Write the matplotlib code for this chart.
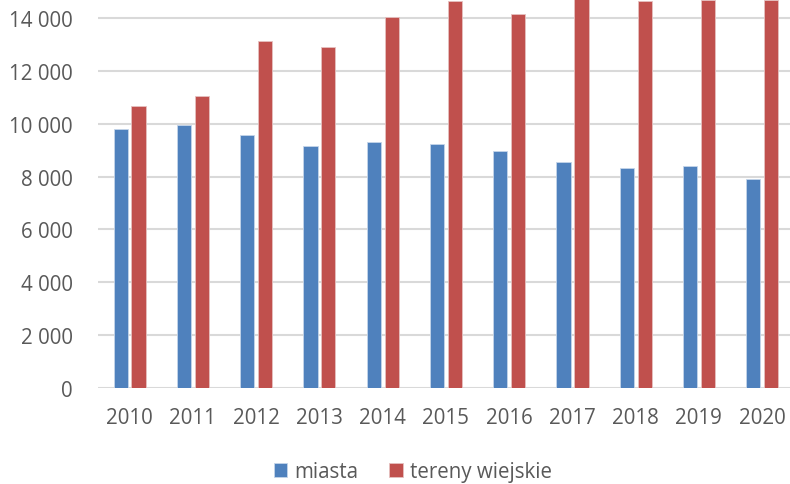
import matplotlib.pyplot as plt
import numpy as np

# dane
lata = ['2010', '2011', '2012', '2013', '2014', '2015', '2016', '2017', '2018', '2019', '2020']
miasta = [9810, 9960, 9560, 9155, 9295, 9220, 8975, 8550, 8320, 8400, 7895]
tereny_wiejskie = [10660, 11040, 13120, 12920, 14030, 14660, 14140, 14900, 14640, 14690, 14690]
y_ticks = [0, 2000, 4000, 6000, 8000, 10000, 12000, 14000]

kolor_tekstu = '#595959'
plt.rcParams['font.family'] = ['Open Sans', 'DejaVu Sans']

fig = plt.figure(figsize=(7.9, 4.85), dpi=100)
ax = fig.add_axes([98 / 790, 1 - 389 / 485, 692 / 790, 389 / 485])

x = np.arange(len(lata))
szer = 0.225
ax.bar(x - 0.142, miasta, szer, color='#4F81BD', edgecolor='#C5D5EA', linewidth=0.6,
       label='miasta', zorder=3)
ax.bar(x + 0.142, tereny_wiejskie, szer, color='#C0504D', edgecolor='#E6C1C0', linewidth=0.6,
       label='tereny wiejskie', zorder=3)

ax.set_xlim(-0.5, 10.44)
ax.set_ylim(0, 14720)
ax.set_yticks(y_ticks)
ax.set_yticklabels([f'{v:,}'.replace(',', ' ') for v in y_ticks])
ax.set_xticks(x)
ax.set_xticklabels(lata)

ax.grid(axis='y', color='#D9D9D9', linewidth=1.5, zorder=0)
for s in ax.spines.values():
    s.set_visible(False)
ax.tick_params(axis='both', length=0, labelsize=14.8, colors=kolor_tekstu)
ax.tick_params(axis='y', pad=18)
ax.tick_params(axis='x', pad=14)

fig.legend(loc='center', bbox_to_anchor=(413 / 790, 1 - 473 / 485), ncol=2, frameon=False,
           fontsize=14.8, handlelength=0.65, handleheight=0.65, handletextpad=0.35,
           columnspacing=1.5, labelcolor=kolor_tekstu)

fig.savefig('out.png', dpi=100)
